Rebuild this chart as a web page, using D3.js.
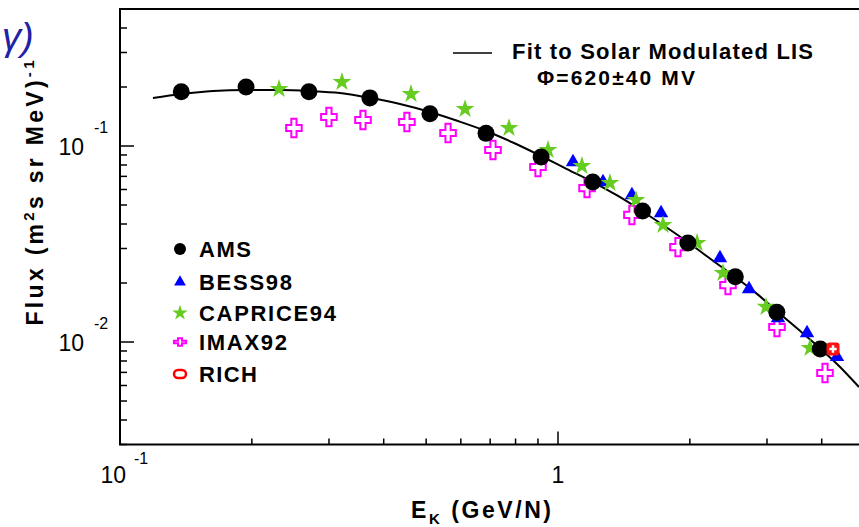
<!DOCTYPE html>
<html>
<head>
<script src="https://d3js.org/d3.v7.min.js"></script>
<style>
  body {margin: 0; background: #fff; overflow: hidden;}
  text {font-family: "Liberation Sans", Arial, sans-serif; font-weight: bold; fill: #000;}
</style>
</head>
<body>
<svg id="chart" width="859" height="527"></svg>
<script>
// kinetic energy per nucleon (GeV/N) and flux (m^2 s sr MeV)^-1
var amsE = [0.138, 0.194, 0.270, 0.372, 0.510, 0.685, 0.915, 1.20, 1.56, 1.98, 2.54, 3.16, 3.97];
var amsF = [0.189, 0.200, 0.189, 0.176, 0.146, 0.116, 0.0879, 0.0655, 0.0466, 0.0320, 0.0215, 0.0142, 0.0092];

var bessE = [1.082, 1.267, 1.475, 1.719, 2.343, 2.730, 3.179, 3.703, 4.335];
var bessF = [0.0829, 0.0655, 0.0562, 0.0455, 0.0268, 0.0186, 0.01326, 0.01111, 0.00839];

var capE = [0.2307, 0.3212, 0.4618, 0.6134, 0.7730, 0.9488, 1.134, 1.314, 1.507, 1.737, 2.077, 2.381, 2.985, 3.762];
var capF = [0.1953, 0.2121, 0.1842, 0.1544, 0.1235, 0.0954, 0.0791, 0.0648, 0.0530, 0.0395, 0.0320, 0.0225, 0.0151, 0.00932];

var imaxE = [0.2495, 0.2999, 0.3587, 0.4519, 0.5610, 0.7105, 0.9001, 1.165, 1.475, 1.879, 2.444, 3.162, 4.070];
var imaxF = [0.1235, 0.1406, 0.1357, 0.1326, 0.1165, 0.0954, 0.0781, 0.0610, 0.0445, 0.0305, 0.0195, 0.01193, 0.00695];

var richE = [4.245];
var richF = [0.00921];

// fit to solar modulated LIS
var fitE = [0.1189, 0.138, 0.1631, 0.1940, 0.2319, 0.2715, 0.3178, 0.3742, 0.4358, 0.5101, 0.5910, 0.6848, 0.7935, 0.9146,
            1.048, 1.202, 1.371, 1.555, 1.764, 1.991, 2.247, 2.536, 2.847, 3.179, 3.568, 4.006, 4.405, 4.867];
var fitF = [0.1757, 0.1842, 0.1909, 0.1931, 0.1931, 0.1909, 0.1864, 0.1757, 0.1638, 0.1491, 0.1341, 0.1193, 0.1036, 0.0889,
            0.0763, 0.0655, 0.0556, 0.0466, 0.0386, 0.0320, 0.0262, 0.0215, 0.0176, 0.0142, 0.0114, 0.0091, 0.00746, 0.00589];

var xMajor = [0.1, 1];
var xMajorBase = ["10", "1"];
var xMajorExp = ["-1", ""];
var xMinor = [0.2, 0.3, 0.4, 0.5, 0.6, 0.7, 0.8, 0.9, 2, 3, 4];

var yMajor = [0.01, 0.1];
var yMajorExp = ["-2", "-1"];
var yMinor = [0.003, 0.004, 0.005, 0.006, 0.007, 0.008, 0.009, 0.02, 0.03, 0.04, 0.05, 0.06, 0.07, 0.08, 0.09, 0.2, 0.3, 0.4];

var legendNames = ["AMS", "BESS98", "CAPRICE94", "IMAX92", "RICH"];
var legendWidths = [52, 93, 137, 88, 58];

var svg = d3.select("#chart");

var x = d3.scaleLog().domain([0.1, 10]).range([120, 996]);
var y = d3.scaleLog().domain([0.003, 0.5]).range([444.5, 9]);

function pts(E, F) { return E.map(function(e, i) { return [e, F[i]]; }); }

svg.append("clipPath").attr("id", "plotclip")
  .append("rect").attr("x", 120).attr("y", y(0.5)).attr("width", 876).attr("height", y(0.003) - y(0.5));

// title fragment (cut at the left edge in the original figure)
svg.append("text")
  .attr("x", 2).attr("y", 50)
  .style("font-size", "38px").style("font-weight", "normal").style("font-style", "italic")
  .style("fill", "#2121a6")
  .text("\u03b3)");

// ticks
var g = svg.append("g");
g.selectAll(".xmaj").data(xMajor).enter().append("line")
  .attr("x1", function(d) { return x(d); }).attr("x2", function(d) { return x(d); })
  .attr("y1", y(0.003)).attr("y2", y(0.003) - 13)
  .attr("stroke", "#000").attr("stroke-width", 1.5);
g.selectAll(".xmin").data(xMinor).enter().append("line")
  .attr("x1", function(d) { return x(d); }).attr("x2", function(d) { return x(d); })
  .attr("y1", y(0.003)).attr("y2", y(0.003) - 6)
  .attr("stroke", "#000").attr("stroke-width", 1.5);
g.selectAll(".ymaj").data(yMajor).enter().append("line")
  .attr("x1", 120).attr("x2", 134)
  .attr("y1", function(d) { return y(d); }).attr("y2", function(d) { return y(d); })
  .attr("stroke", "#000").attr("stroke-width", 1.5);
g.selectAll(".ymin").data(yMinor).enter().append("line")
  .attr("x1", 120).attr("x2", 127)
  .attr("y1", function(d) { return y(d); }).attr("y2", function(d) { return y(d); })
  .attr("stroke", "#000").attr("stroke-width", 1.5);

// frame
svg.append("rect")
  .attr("x", 120).attr("y", y(0.5))
  .attr("width", 876).attr("height", y(0.003) - y(0.5))
  .attr("fill", "none").attr("stroke", "#000").attr("stroke-width", 2);

// tick labels
xMajor.forEach(function(d, i) {
  var hasExp = xMajorExp[i] !== "";
  svg.append("text")
    .attr("x", hasExp ? x(d) + 6 : x(d)).attr("y", 483)
    .attr("text-anchor", hasExp ? "end" : "middle")
    .style("font-size", "23px").style("font-weight", "normal")
    .text(xMajorBase[i]);
  if (hasExp) {
    svg.append("text")
      .attr("x", x(d) + 14).attr("y", 464)
      .style("font-size", "16px").style("font-weight", "normal")
      .text(xMajorExp[i]);
  }
});
yMajor.forEach(function(d, i) {
  svg.append("text")
    .attr("x", 84).attr("y", y(d) + 9)
    .attr("text-anchor", "end")
    .style("font-size", "23px").style("font-weight", "normal")
    .text("10");
  svg.append("text")
    .attr("x", 94).attr("y", y(d) - 13)
    .style("font-size", "16px").style("font-weight", "normal")
    .text(yMajorExp[i]);
});

// axis titles
var yt = svg.append("text")
  .attr("transform", "translate(43,193) rotate(-90)")
  .attr("text-anchor", "middle")
  .attr("textLength", 265).attr("lengthAdjust", "spacing")
  .style("font-size", "23px");
yt.append("tspan").text("Flux (m");
yt.append("tspan").attr("dy", -9).style("font-size", "15px").text("2");
yt.append("tspan").attr("dy", 9).text("s sr MeV)");
yt.append("tspan").attr("dy", -9).style("font-size", "15px").text("-1");

var xt = svg.append("text")
  .attr("x", 481).attr("y", 518)
  .attr("text-anchor", "middle")
  .attr("textLength", 140).attr("lengthAdjust", "spacing")
  .style("font-size", "23px");
xt.append("tspan").text("E");
xt.append("tspan").attr("dy", 6).style("font-size", "15px").text("K");
xt.append("tspan").attr("dy", -6).text(" (GeV/N)");

// plot contents
var plot = svg.append("g").attr("clip-path", "url(#plotclip)");

var line = d3.line()
  .x(function(d) { return x(d[0]); })
  .y(function(d) { return y(d[1]); })
  .curve(d3.curveMonotoneX);
plot.append("path")
  .datum(pts(fitE, fitF))
  .attr("d", line)
  .attr("fill", "none").attr("stroke", "#000").attr("stroke-width", 2);

var crossPath = d3.symbol().type(d3.symbolCross).size(150)();
var starPath = d3.symbol().type(d3.symbolStar).size(110)();
var triPath = d3.symbol().type(d3.symbolTriangle).size(90)();

plot.selectAll(".imax").data(pts(imaxE, imaxF)).enter().append("path")
  .attr("d", crossPath)
  .attr("transform", function(d) { return "translate(" + x(d[0]) + "," + y(d[1]) + ") scale(0.95,1.12)"; })
  .attr("fill", "#fff").attr("stroke", "#ff00ff").attr("stroke-width", 2)
  .attr("vector-effect", "non-scaling-stroke");

plot.selectAll(".bess").data(pts(bessE, bessF)).enter().append("path")
  .attr("d", triPath)
  .attr("transform", function(d) { return "translate(" + x(d[0]) + "," + y(d[1]) + ")"; })
  .attr("fill", "#0000ff");

plot.selectAll(".cap").data(pts(capE, capF)).enter().append("path")
  .attr("d", starPath)
  .attr("transform", function(d) { return "translate(" + x(d[0]) + "," + y(d[1]) + ")"; })
  .attr("fill", "#66cc22");

plot.selectAll(".ams").data(pts(amsE, amsF)).enter().append("circle")
  .attr("cx", function(d) { return x(d[0]); })
  .attr("cy", function(d) { return y(d[1]); })
  .attr("r", 8.5)
  .attr("fill", "#000");

plot.selectAll(".rich").data(pts(richE, richF)).enter().append("g")
  .attr("transform", function(d) { return "translate(" + x(d[0]) + "," + y(d[1]) + ")"; })
  .each(function() {
    var s = d3.select(this);
    s.append("rect").attr("x", -6.5).attr("y", -6.5).attr("width", 13).attr("height", 13).attr("rx", 3)
      .attr("fill", "#ff1010");
    s.append("path").attr("d", d3.symbol().type(d3.symbolCross).size(30)()).attr("fill", "#fff");
  });

// legend for the data sets
var leg = svg.append("g");
var legY = [249, 282, 313, 342, 374];
legendNames.forEach(function(name, i) {
  var ly = legY[i];
  var mk = leg.append("g").attr("transform", "translate(180," + ly + ")");
  if (i === 0) mk.append("circle").attr("r", 6).attr("fill", "#000");
  if (i === 1) mk.append("path").attr("d", d3.symbol().type(d3.symbolTriangle).size(60)()).attr("fill", "#0000ff");
  if (i === 2) mk.append("path").attr("d", d3.symbol().type(d3.symbolStar).size(75)()).attr("fill", "#66cc22");
  if (i === 3) mk.append("path").attr("d", d3.symbol().type(d3.symbolCross).size(45)())
      .attr("transform", "scale(1.35,0.85)")
      .attr("fill", "#fff").attr("stroke", "#ff00ff").attr("stroke-width", 2).attr("vector-effect", "non-scaling-stroke");
  if (i === 4) mk.append("rect").attr("x", -6).attr("y", -4).attr("width", 12).attr("height", 8).attr("rx", 4)
      .attr("fill", "#fff").attr("stroke", "#ff0000").attr("stroke-width", 2.5);
  leg.append("text")
    .attr("x", 199).attr("y", ly + 8)
    .attr("textLength", legendWidths[i]).attr("lengthAdjust", "spacing")
    .style("font-size", "22px")
    .text(name);
});

// legend for the fit
svg.append("line")
  .attr("x1", 453).attr("x2", 492).attr("y1", 53).attr("y2", 53)
  .attr("stroke", "#000").attr("stroke-width", 1.5);
svg.append("text")
  .attr("x", 512).attr("y", 59)
  .attr("textLength", 301).attr("lengthAdjust", "spacing")
  .style("font-size", "22px")
  .text("Fit to Solar Modulated LIS");
svg.append("text")
  .attr("x", 537).attr("y", 85)
  .attr("textLength", 158).attr("lengthAdjust", "spacing")
  .style("font-size", "21px")
  .text("\u03a6=620\u00b140 MV");
</script>
</body>
</html>
